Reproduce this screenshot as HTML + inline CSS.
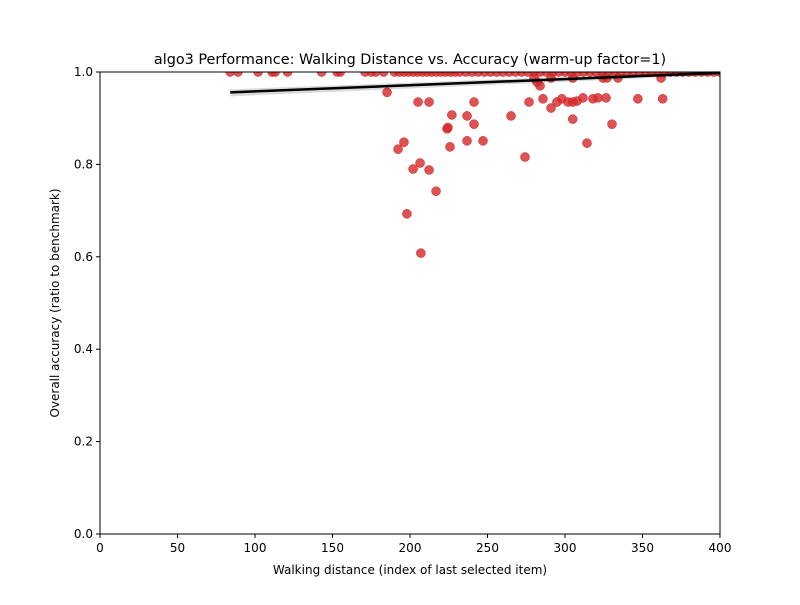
<!DOCTYPE html>
<html><head><meta charset="utf-8"><style>
body{margin:0;background:#fff;font-family:"Liberation Sans","DejaVu Sans",sans-serif}
svg text{font-family:"DejaVu Sans","Liberation Sans",sans-serif;fill:#000}
</style></head><body>
<svg id="chart" width="800" height="600" viewBox="0 0 800 600" xmlns="http://www.w3.org/2000/svg">
<rect width="800" height="600" fill="#fff"/>
<text x="410" y="64" font-size="14.4" text-anchor="middle">algo3 Performance: Walking Distance vs. Accuracy (warm-up factor=1)</text>
<g id="marks"></g>
<g id="axes"></g>
<text x="410" y="574" font-size="12" text-anchor="middle">Walking distance (index of last selected item)</text>
<text transform="translate(59,303) rotate(-90)" font-size="12" text-anchor="middle">Overall accuracy (ratio to benchmark)</text>
</svg>
<script>
const topX=[84,89,102,111,113,121,143,153,155,171,175,178,183,190,193,196,199,202,205,208,211,214,217,220,223,226,229,232,236,240,244,248,252,256,260,264,268,272,276,280,284,288,292,296,300,304,308,312,316,320,324,328,332,336,340,344,348,352,356,360,364,368,372,376,380,384,388,392,396,400];
const lowX=[185.2,205.2,212.3,227,223.9,224.5,225.8,196.1,192.3,206.5,202,212.3,216.8,198,207,241.3,236.8,241.3,236.8,247.1,265.2,274.2,276.8,283.9,285.8,291,291,294.8,298,302,305,307.7,305,305,311.6,314.2,318,321.3,326.5,324.5,327,330.3,334.2,347,362,363,280,282];
const lowY=[0.956,0.935,0.935,0.907,0.877,0.880,0.838,0.848,0.833,0.803,0.790,0.788,0.742,0.693,0.608,0.935,0.905,0.887,0.851,0.851,0.905,0.816,0.935,0.970,0.942,0.922,0.987,0.935,0.942,0.935,0.935,0.937,0.898,0.987,0.944,0.846,0.942,0.944,0.944,0.987,0.987,0.887,0.987,0.942,0.987,0.942,0.987,0.978];
const lineX=[84,400];
const lineY=[0.956,0.998];
const xTicks=[0,50,100,150,200,250,300,350,400];
const yTicks=[0.0,0.2,0.4,0.6,0.8,1.0];
const X0=100,X1=720,Y0=534,Y1=72;
const sx=v=>X0+(v-0)/400*(X1-X0);
const sy=v=>Y0-(v-0)/1*(Y0-Y1);
const NS="http://www.w3.org/2000/svg";
const marks=document.getElementById('marks'),axes=document.getElementById('axes');
function mk(tag,a,p){const e=document.createElementNS(NS,tag);for(const k in a)e.setAttribute(k,a[k]);p.appendChild(e);return e;}
const clip=mk('clipPath',{id:'cp'},marks);mk('rect',{x:X0,y:Y1,width:X1-X0,height:Y0-Y1},clip);
const pts=mk('g',{'clip-path':'url(#cp)'},marks);
topX.forEach(x=>{const c=mk('circle',{cx:sx(x),cy:sy(1.0),r:4.5,fill:'#d62728','fill-opacity':0.8,stroke:'#c42020','stroke-width':0.5},pts);

});
lowX.forEach((x,i)=>{const c=mk('circle',{cx:sx(x),cy:sy(lowY[i]),r:4.5,fill:'#d62728','fill-opacity':0.8,stroke:'#c42020','stroke-width':0.5},pts);

});
const band=mk('polygon',{points:`${sx(lineX[0])},${sy(lineY[0])-3} ${sx(lineX[1])},${sy(lineY[1])-2} ${sx(lineX[1])},${sy(lineY[1])+2} ${sx(lineX[0])},${sy(lineY[0])+4}`,fill:'#000','fill-opacity':0.15},marks);


const ln=mk('line',{x1:sx(lineX[0]),y1:sy(lineY[0]),x2:sx(lineX[1]),y2:sy(lineY[1]),stroke:'#000','stroke-width':2.5},marks);


mk('rect',{x:X0,y:Y1,width:X1-X0,height:Y0-Y1,fill:'none',stroke:'#000','stroke-width':1},axes);
xTicks.forEach(t=>{mk('line',{x1:sx(t),x2:sx(t),y1:Y0,y2:Y0+4,stroke:'#000'},axes);
const tx=mk('text',{x:sx(t),y:Y0+18,'font-size':12,'text-anchor':'middle'},axes);tx.textContent=t;

});
yTicks.forEach(t=>{mk('line',{x1:X0-4,x2:X0,y1:sy(t),y2:sy(t),stroke:'#000'},axes);
const tx=mk('text',{x:X0-7,y:sy(t)+4,'font-size':12,'text-anchor':'end'},axes);tx.textContent=t.toFixed(1);

});
</script>
</body></html>
